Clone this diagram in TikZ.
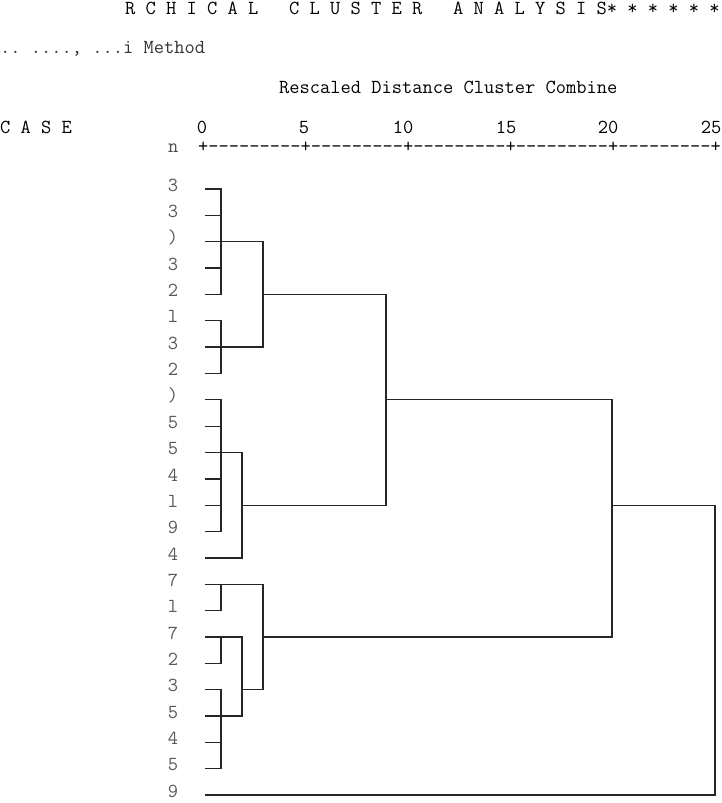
\documentclass[tikz,border=0pt]{standalone}
\usepackage{fontspec}
\usepackage{tikz}

\tikzset{
	txt/.style={inner sep=0pt, font=\ttfamily\fontsize{19.9}{19.9}\selectfont},
	leaf/.style={txt, text=black!65, anchor=mid},
	tree/.style={line width=1.3pt, line cap=rect, black!85}
}

\begin{document}
\begin{tikzpicture}[x=1pt, y=-1pt, line join=miter]
	\useasboundingbox (0,0) rectangle (722,803);
	% TIÊU ĐỀ
	\node[txt, anchor=base west] (title) at (125,14) {R~C~H~I~C~A~L~~~C~L~U~S~T~E~R~~~A~N~A~L~Y~S~I~S*~*~*~*~*~*};
	\node[txt, anchor=base west, text=black!80] (method) at (0,53) {..~....,~...i~Method};
	\node[txt, anchor=base west] (rescaled) at (279,93) {Rescaled~Distance~Cluster~Combine};
	\node[txt, anchor=base west] (case) at (0,133) {C~A~S~E};
	
	% TRỤC
	\foreach \v/\x in {0/202, 5/304, 10/403, 15/506, 20/608, 25/711}
		\node[txt, anchor=base] (tick\v) at (\x,133) {\v};
	\node[txt, anchor=base west, text=black!70] (n) at (168,152) {n};
	\node[txt, anchor=base west] (axis) at (198,152) {+---------+---------+---------+---------+---------+};
	
	% NHÃN CÁC CA
	\foreach \i/\t in {1/3, 2/3, 3/{)}, 4/3, 5/2, 6/l, 7/3, 8/2, 9/{)}, 10/5, 11/5, 12/4,
		13/l, 14/9, 15/4, 16/7, 17/l, 18/7, 19/2, 20/3, 21/5, 22/4, 23/5, 24/9} {
		\node[leaf] (c\i) at (173,{189+(\i-1)*26.35}) {\t};
		\coordinate (s\i) at (206,{189+(\i-1)*26.35});
	}
	
	% CÁC MỨC GỘP
	\coordinate (kA) at (221,0);
	\coordinate (kB) at (242,0);
	\coordinate (kC) at (263,0);
	\coordinate (kD) at (386,0);
	\coordinate (kE) at (612,0);
	\coordinate (kF) at (715,0);
	
	% CÂY PHÂN CỤM
	\foreach \i in {1,...,14,16,17,...,23}
		\draw[tree] (s\i) -- (s\i -| kA);
	\draw[tree] (s1 -| kA) -- (s5 -| kA);
	\draw[tree] (s6 -| kA) -- (s8 -| kA);
	\draw[tree] (s9 -| kA) -- (s14 -| kA);
	\draw[tree] (s16 -| kA) -- (s17 -| kA);
	\draw[tree] (s18 -| kA) -- (s19 -| kA);
	\draw[tree] (s20 -| kA) -- (s23 -| kA);
	
	\draw[tree] (s3 -| kA) -- (s3 -| kC) -- (s7 -| kC) -- (s7 -| kA);
	\draw[tree] (s5 -| kC) -- (s5 -| kD);
	\draw[tree] (s11 -| kA) -- (s11 -| kB) -- (s15 -| kB) -- (s15);
	\draw[tree] (s13 -| kB) -- (s13 -| kD);
	\draw[tree] (s5 -| kD) -- (s13 -| kD);
	\draw[tree] (s9 -| kD) -- (s9 -| kE);
	
	\draw[tree] (s18 -| kA) -- (s18 -| kB) -- (s21 -| kB) -- (s21 -| kA);
	\draw[tree] (s16 -| kA) -- (s16 -| kC) -- (s20 -| kC) -- (s20 -| kB);
	\draw[tree] (s18 -| kC) -- (s18 -| kE);
	\draw[tree] (s9 -| kE) -- (s18 -| kE);
	\draw[tree] (s13 -| kE) -- (s13 -| kF) -- (s24 -| kF) -- (s24);
\end{tikzpicture}
\end{document}
